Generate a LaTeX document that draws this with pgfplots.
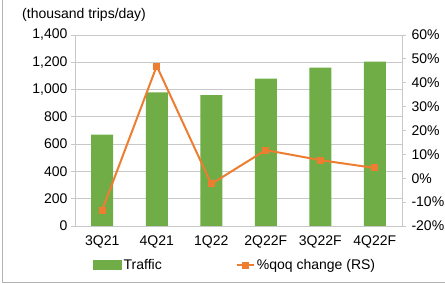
\documentclass[border=0pt]{standalone}
\usepackage{pgfplots}
\pgfplotsset{compat=1.18}
\usepackage{fontspec}
\setmainfont{Liberation Sans}
\definecolor{barg}{RGB}{112,173,71}
\definecolor{lineo}{RGB}{237,125,49}
\definecolor{gridc}{RGB}{200,200,200}
\begin{document}
\begin{tikzpicture}[x=1pt,y=1pt]
\useasboundingbox (0,0) rectangle (445,284);
\draw[gray!60, line width=1.5pt] (2.5,300) -- (2.5,1.5) -- (460,1.5);
\node[anchor=west, font=\fontsize{14}{16}\selectfont, inner sep=0pt] at (22,269) {(thousand trips/day)};
\pgfplotsset{
  every axis/.append style={
    at={(75pt,58pt)}, anchor=south west,
    scale only axis, width=327pt, height=191pt,
    xmin=-0.5, xmax=5.5,
    tick label style={font=\fontsize{14}{16}\selectfont},
    /pgf/number format/assume math mode=true,
    /pgf/number format/1000 sep={,},
    axis line style={gridc, line width=0.8pt},
    major tick style={gridc, line width=0.8pt},
    tick align=outside,
    major tick length=4pt,
  }
}
\begin{axis}[
  axis y line*=left, axis x line*=bottom,
  ymin=0, ymax=1400, ytick={0,200,...,1400},
  ymajorgrids, grid style={gridc, line width=0.8pt},
  xtick=data, xticklabels={3Q21,4Q21,1Q22,2Q22F,3Q22F,4Q22F},
  x tick style={draw=none},
  xticklabel style={yshift=-2pt},
  ybar, bar width=22pt,
]
\addplot[fill=barg, draw=none] coordinates {(0,670) (1,980) (2,960) (3,1080) (4,1160) (5,1205)};
\end{axis}
\begin{axis}[
  axis y line*=right, axis x line=none,
  ymin=-20, ymax=60, ytick={-20,-10,...,60},
  yticklabel={\pgfmathprintnumber{\tick}\%},
  yticklabel style={xshift=2pt},
  legend columns=2,
  legend style={at={(0.49,-0.205)}, anchor=center, draw=none, fill=none,
    font=\fontsize{14}{16}\selectfont,
    /tikz/every even column/.append style={column sep=72pt}},
]
\addlegendimage{area legend, legend image code/.code={\fill[barg] (-2pt,-4.5pt) rectangle (26pt,4.5pt);}}
\addlegendentry{Traffic}
\addplot[lineo, line width=2pt, mark=square*, mark size=2.5pt, mark options={solid}] coordinates {(0,-13.3) (1,47) (2,-2.4) (3,11.8) (4,7.6) (5,4.3)};
\addlegendentry{\%qoq change (RS)}
\end{axis}
\end{tikzpicture}
\end{document}
